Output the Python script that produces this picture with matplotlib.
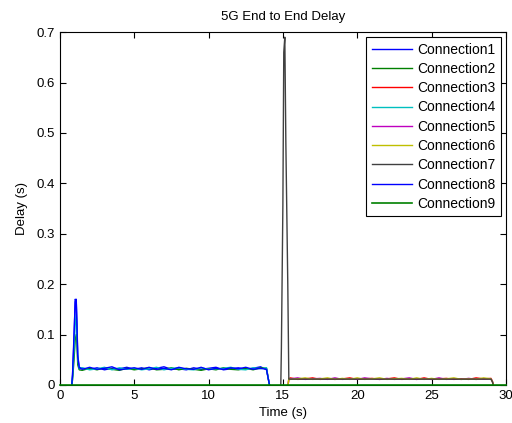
import matplotlib
matplotlib.use("Agg")
import matplotlib.pyplot as plt

# time stamps for the first group of flows (start ~0.8 s, stop ~14 s)
t_a = [0.8, 0.85, 0.95, 1.03, 1.1, 1.15, 1.2, 1.3, 1.5, 2.0, 2.5, 3.0,
       3.5, 4.0, 4.5, 5.0, 5.5, 6.0, 6.5, 7.0, 7.5, 8.0, 8.5, 9.0, 9.5,
       10.0, 10.5, 11.0, 11.5, 12.0, 12.5, 13.0, 13.5, 13.9, 14.0, 14.1]
conn1 = [0, 0.02, 0.09, 0.17, 0.165, 0.12, 0.06, 0.035, 0.033, 0.031, 0.034,
         0.030, 0.033, 0.032, 0.035, 0.031, 0.034, 0.030, 0.033, 0.036, 0.031,
         0.032, 0.030, 0.034, 0.031, 0.033, 0.035, 0.030, 0.032, 0.034, 0.031,
         0.033, 0.036, 0.030, 0.015, 0]
conn2 = [0, 0.01, 0.05, 0.09, 0.10, 0.08, 0.04, 0.030, 0.029, 0.033, 0.030,
         0.034, 0.031, 0.029, 0.033, 0.030, 0.032, 0.034, 0.030, 0.031, 0.034,
         0.030, 0.033, 0.031, 0.029, 0.032, 0.030, 0.034, 0.031, 0.030, 0.033,
         0.030, 0.034, 0.033, 0.015, 0]
conn4 = [0, 0.015, 0.07, 0.12, 0.14, 0.10, 0.05, 0.032, 0.034, 0.030, 0.032,
         0.035, 0.030, 0.034, 0.031, 0.033, 0.030, 0.032, 0.035, 0.030, 0.033,
         0.034, 0.031, 0.030, 0.034, 0.031, 0.032, 0.033, 0.035, 0.031, 0.030,
         0.034, 0.032, 0.034, 0.015, 0]
conn8 = [0, 0.02, 0.10, 0.165, 0.17, 0.11, 0.055, 0.034, 0.031, 0.035, 0.031,
         0.033, 0.036, 0.030, 0.032, 0.034, 0.031, 0.035, 0.031, 0.033, 0.030,
         0.035, 0.032, 0.031, 0.035, 0.030, 0.033, 0.031, 0.034, 0.032, 0.035,
         0.031, 0.033, 0.031, 0.015, 0]

# second group of flows (start ~15 s, stop ~29 s)
t_b = [14.86, 14.9, 15.0, 15.06, 15.13, 15.2, 15.33, 15.4, 16.0, 17.0,
       18.0, 19.0, 20.0, 21.0, 22.0, 23.0, 24.0, 25.0, 26.0, 27.0, 28.0, 29.0,
       29.1, 29.15]
conn7 = [0, 0.073, 0.357, 0.66, 0.69, 0.48, 0.20, 0.0115, 0.0115, 0.0115,
         0.0115, 0.0115, 0.0115, 0.0115, 0.0115, 0.0115, 0.0115, 0.0115,
         0.0115, 0.0115, 0.0115, 0.0115, 0.006, 0]
t_c = [15.35, 15.4, 15.5, 16.0, 16.5, 17.0, 17.5, 18.0, 18.5, 19.0, 19.5,
       20.0, 20.5, 21.0, 21.5, 22.0, 22.5, 23.0, 23.5, 24.0, 24.5, 25.0,
       25.5, 26.0, 26.5, 27.0, 27.5, 28.0, 28.5, 29.0, 29.1, 29.15]
conn3 = [0, 0.012, 0.014, 0.011, 0.012, 0.014, 0.011, 0.012, 0.011, 0.012,
         0.014, 0.011, 0.012, 0.013, 0.011, 0.012, 0.014, 0.011, 0.012, 0.011,
         0.014, 0.011, 0.012, 0.013, 0.011, 0.012, 0.011, 0.014, 0.012, 0.013,
         0.007, 0]
conn5 = [0, 0.011, 0.012, 0.014, 0.011, 0.012, 0.013, 0.011, 0.014, 0.011,
         0.012, 0.011, 0.014, 0.012, 0.011, 0.013, 0.011, 0.012, 0.014, 0.011,
         0.012, 0.011, 0.014, 0.011, 0.012, 0.011, 0.013, 0.011, 0.012, 0.012,
         0.006, 0]
conn6 = [0, 0.013, 0.011, 0.012, 0.014, 0.011, 0.012, 0.014, 0.011, 0.013,
         0.011, 0.014, 0.011, 0.012, 0.014, 0.011, 0.012, 0.013, 0.011, 0.014,
         0.011, 0.013, 0.011, 0.012, 0.014, 0.011, 0.012, 0.011, 0.014, 0.012,
         0.006, 0]
t_z = [0.0, 30.0]
conn9 = [0, 0]

names = ['Connection%d' % i for i in range(1, 10)]
colors = [(0, 0, 1), (0, 0.5, 0), (1, 0, 0), (0, 0.75, 0.75), (0.75, 0, 0.75),
          (0.75, 0.75, 0), (0.25, 0.25, 0.25), (0, 0, 1), (0, 0.5, 0)]

plt.rcParams['font.family'] = ['Liberation Sans', 'DejaVu Sans']
fig = plt.figure(figsize=(5.12, 4.23), dpi=100)
ax = fig.add_axes([0.117, 0.09, 0.871, 0.834])

series = [(t_a, conn1), (t_a, conn2), (t_c, conn3), (t_a, conn4), (t_c, conn5),
          (t_c, conn6), (t_b, conn7), (t_a, conn8), (t_z, conn9)]
for (tt, yy), nm, cl in zip(series, names, colors):
    if nm == 'Connection9':
        # zero line sits on the bottom spine, draw it over the frame
        ax.plot(tt, yy, color=cl, lw=1.2, label=nm, zorder=3, clip_on=False)
    else:
        ax.plot(tt, yy, color=cl, lw=1, label=nm)

ax.set_xlim(0, 30)
ax.set_ylim(0, 0.7)
ax.set_xticks([0, 5, 10, 15, 20, 25, 30])
ax.set_yticks([0, 0.1, 0.2, 0.3, 0.4, 0.5, 0.6, 0.7])
ax.set_yticklabels(['0', '0.1', '0.2', '0.3', '0.4', '0.5', '0.6', '0.7'])
ax.tick_params(direction='in', top=True, right=True, labelsize=9.5, length=4)
for sp in ax.spines.values():
    sp.set_linewidth(0.8)
ax.set_title('5G End to End Delay', fontsize=9.5, pad=9)
ax.set_xlabel('Time (s)', fontsize=9.5, labelpad=4)
ax.set_ylabel('Delay (s)', fontsize=9.5, labelpad=6)

leg = ax.legend(loc='upper right', fontsize=10, fancybox=False, framealpha=1,
                edgecolor='black', handlelength=2.9, borderaxespad=0.35,
                labelspacing=0.38, handletextpad=0.35, borderpad=0.4)
leg.get_frame().set_linewidth(0.8)

fig.savefig('out.png', dpi=100)
